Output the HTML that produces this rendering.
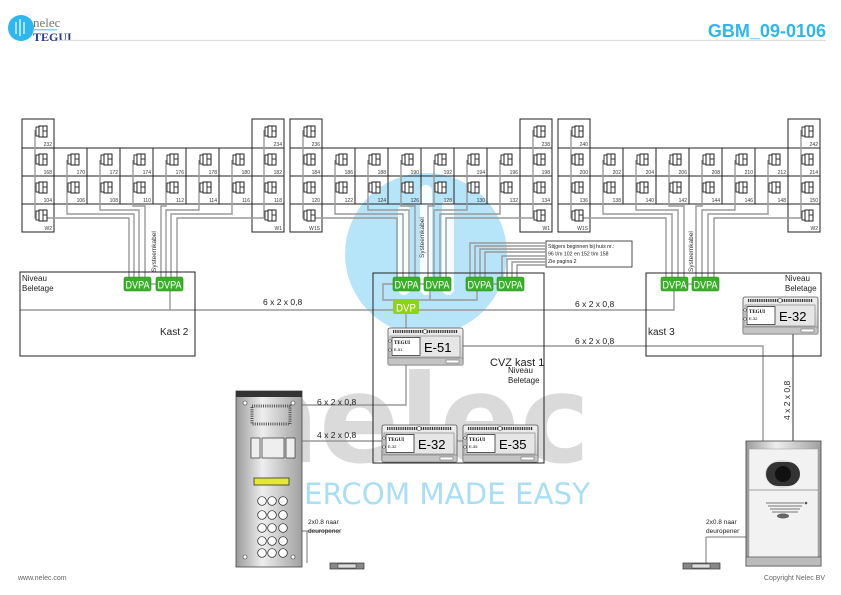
<!DOCTYPE html>
<html><head><meta charset="utf-8"><style>
html,body{margin:0;padding:0;background:#fff;}
svg{display:block;font-family:"Liberation Sans",sans-serif;}
</style></head><body>
<svg width="841" height="595" viewBox="0 0 841 595" xmlns="http://www.w3.org/2000/svg">
<defs>
<g id="ph"><rect x="-3" y="0" width="3" height="9" fill="#fff" stroke="#222" stroke-width="0.9"/><rect x="0" y="-1" width="8" height="11" fill="#fff" stroke="#222" stroke-width="1"/><line x1="4" y1="-1" x2="4" y2="10" stroke="#222" stroke-width="0.9"/><line x1="4" y1="4" x2="8" y2="4" stroke="#222" stroke-width="0.9"/></g>
<linearGradient id="mg" x1="0" y1="0" x2="0" y2="1"><stop offset="0" stop-color="#f0f0f0"/><stop offset="1" stop-color="#c8c8c8"/></linearGradient>
<linearGradient id="pg" x1="0" y1="0" x2="1" y2="0"><stop offset="0" stop-color="#9a9a9a"/><stop offset="0.4" stop-color="#eeeeee"/><stop offset="1" stop-color="#a0a0a0"/></linearGradient>
<g id="mod"><rect x="0" y="0" width="75" height="37" rx="2" fill="url(#mg)" stroke="#555" stroke-width="0.8"/><line x1="5" y1="3.5" x2="70" y2="3.5" stroke="#333" stroke-width="3" stroke-dasharray="1 0.8"/><circle cx="37" cy="3.5" r="2" fill="#fff" stroke="#333" stroke-width="0.6"/><rect x="2" y="8" width="70" height="21" fill="#e6e6e6" stroke="#777" stroke-width="0.6"/><rect x="4" y="9.5" width="28" height="18" fill="#fff" stroke="#333" stroke-width="0.8"/><rect x="0" y="30" width="75" height="7" fill="#c4c4c4" stroke="#666" stroke-width="0.5"/><rect x="58" y="32" width="13" height="3" fill="#fff" stroke="#555" stroke-width="0.5"/><circle cx="2" cy="13" r="1.3" fill="#fff" stroke="#333" stroke-width="0.5"/><circle cx="2" cy="22" r="1.3" fill="#fff" stroke="#333" stroke-width="0.5"/></g>
</defs>

<!-- watermark -->
<circle cx="426" cy="254" r="81" fill="#b6e5f9"/>
<g fill="#fff" opacity="0.9"><rect x="398" y="205" width="12" height="90" rx="6"/><rect x="420" y="185" width="12" height="110" rx="6"/><rect x="442" y="200" width="12" height="95" rx="6"/></g>
<text x="235" y="462" font-size="122" font-weight="bold" fill="#dadada" textLength="355" lengthAdjust="spacingAndGlyphs" font-family="'DejaVu Sans',sans-serif">nelec</text>
<text x="304" y="504" font-size="29" fill="#a9dff6" textLength="286" lengthAdjust="spacingAndGlyphs" font-family="'DejaVu Sans',sans-serif">ERCOM MADE EASY</text>

<!-- header -->
<circle cx="21" cy="28" r="13" fill="#2cb7f0"/>
<g stroke="#fff" stroke-width="1.2"><line x1="16" y1="22" x2="16" y2="34"/><line x1="20" y1="19" x2="20" y2="36"/><line x1="24" y1="22" x2="24" y2="34"/></g>
<text x="33" y="27" font-size="13" fill="#777" font-family="'Liberation Serif',serif">nelec</text>
<text x="33" y="41" font-size="12" fill="#2c3a8a" font-weight="bold" font-family="'Liberation Serif',serif">TEGUI</text>
<rect x="33" y="29" width="24" height="1.5" fill="#7fd0f5"/>
<line x1="58" y1="40.5" x2="826" y2="40.5" stroke="#ddd" stroke-width="1.2"/>
<text x="826" y="37" font-size="18" fill="#2cb7f0" font-weight="bold" text-anchor="end">GBM_09-0106</text>
<text x="18" y="580" font-size="7" fill="#666">www.nelec.com</text>
<text x="825" y="580" font-size="7" fill="#666" text-anchor="end">Copyright Nelec BV</text>

<!-- grids -->
<g fill="none" stroke="#222" stroke-width="1">
<rect x="22" y="119" width="32" height="113"/><rect x="252" y="119" width="32" height="113"/>
<rect x="290" y="119" width="32" height="113"/><rect x="520" y="119" width="32" height="113"/>
<rect x="558" y="119" width="32" height="113"/><rect x="788" y="119" width="32" height="113"/>
<path d="M22 148H284M22 176H284M22 204H284M87 148V204M120 148V204M153 148V204M186 148V204M219 148V204M54 148V204M252 148V204"/>
<path d="M290 148H552M290 176H552M290 204H552M355 148V204M388 148V204M421 148V204M454 148V204M487 148V204"/>
<path d="M558 148H820M558 176H820M558 204H820M623 148V204M656 148V204M689 148V204M722 148V204M755 148V204"/>
</g>

<!-- wires -->
<g fill="none" stroke="#9a9a9a" stroke-width="1.4">
<path d="M35 130V218H129V277M67 160V214H134V277M100 160V210H139V277M133 160V206H145V277M166 160V206H161V277M199 160V210H166V277M232 160V214H171V277M264 130V218H177V277"/>
<path d="M303 130V218H397V277M335 160V214H403V277M368 160V210H409V277M401 160V206H415V277M434 160V206H428V277M467 160V210H434V277M500 160V214H440V277M533 130V218H446V277"/>
<path d="M571 130V218H666V277M603 160V214H672V277M636 160V210H678V277M669 160V206H684V277M702 160V206H696V277M735 160V210H702V277M768 160V214H708V277M801 130V218H714V277"/>
<path d="M545 243H470V277M545 246H475V277M545 249H480V277M545 252H485V277M545 256H502V277M545 259H507V277M545 262H512V277M545 265H517V277"/>
<path d="M393 284H383V300H477V291M430 291V300M406 314V328"/>
<path d="M170 291V310H646M674 291V310H544M195 310H20"/>
<path d="M455 346H763V441"/>
<path d="M302 405H406V365"/>
<path d="M302 441H382M454 441H463"/>
</g>
<line x1="793" y1="333" x2="793" y2="441" stroke="#333" stroke-width="1"/>
<line x1="307" y1="531" x2="307" y2="563" stroke="#777" stroke-width="1"/>
<line x1="706" y1="537" x2="746" y2="537" stroke="#777" stroke-width="1"/>
<line x1="706" y1="537" x2="706" y2="563" stroke="#777" stroke-width="1"/>
<line x1="302" y1="531" x2="340" y2="531" stroke="#777" stroke-width="1"/>

<!-- phones -->
<g>
<use href="#ph" x="39" y="127"/><use href="#ph" x="39" y="155"/><use href="#ph" x="39" y="183"/><use href="#ph" x="39" y="211"/>
<use href="#ph" x="71" y="155"/><use href="#ph" x="104" y="155"/><use href="#ph" x="137" y="155"/><use href="#ph" x="170" y="155"/><use href="#ph" x="203" y="155"/><use href="#ph" x="236" y="155"/>
<use href="#ph" x="71" y="183"/><use href="#ph" x="104" y="183"/><use href="#ph" x="137" y="183"/><use href="#ph" x="170" y="183"/><use href="#ph" x="203" y="183"/><use href="#ph" x="236" y="183"/>
<use href="#ph" x="268" y="127"/><use href="#ph" x="268" y="155"/><use href="#ph" x="268" y="183"/><use href="#ph" x="268" y="211"/>
<use href="#ph" x="307" y="127"/><use href="#ph" x="307" y="155"/><use href="#ph" x="307" y="183"/><use href="#ph" x="307" y="211"/>
<use href="#ph" x="339" y="155"/><use href="#ph" x="372" y="155"/><use href="#ph" x="405" y="155"/><use href="#ph" x="438" y="155"/><use href="#ph" x="471" y="155"/><use href="#ph" x="504" y="155"/>
<use href="#ph" x="339" y="183"/><use href="#ph" x="372" y="183"/><use href="#ph" x="405" y="183"/><use href="#ph" x="438" y="183"/><use href="#ph" x="471" y="183"/><use href="#ph" x="504" y="183"/>
<use href="#ph" x="537" y="127"/><use href="#ph" x="537" y="155"/><use href="#ph" x="537" y="183"/><use href="#ph" x="537" y="211"/>
<use href="#ph" x="575" y="127"/><use href="#ph" x="575" y="155"/><use href="#ph" x="575" y="183"/><use href="#ph" x="575" y="211"/>
<use href="#ph" x="607" y="155"/><use href="#ph" x="640" y="155"/><use href="#ph" x="673" y="155"/><use href="#ph" x="706" y="155"/><use href="#ph" x="739" y="155"/><use href="#ph" x="772" y="155"/>
<use href="#ph" x="607" y="183"/><use href="#ph" x="640" y="183"/><use href="#ph" x="673" y="183"/><use href="#ph" x="706" y="183"/><use href="#ph" x="739" y="183"/><use href="#ph" x="772" y="183"/>
<use href="#ph" x="805" y="127"/><use href="#ph" x="805" y="155"/><use href="#ph" x="805" y="183"/><use href="#ph" x="805" y="211"/>
</g>

<!-- cell labels -->
<g font-size="5" fill="#333" text-anchor="end">
<text x="52" y="146">232</text><text x="52" y="174">168</text><text x="52" y="202">104</text><text x="52" y="230">W2</text>
<text x="85" y="174">170</text><text x="118" y="174">172</text><text x="151" y="174">174</text><text x="184" y="174">176</text><text x="217" y="174">178</text><text x="250" y="174">180</text>
<text x="85" y="202">106</text><text x="118" y="202">108</text><text x="151" y="202">110</text><text x="184" y="202">112</text><text x="217" y="202">114</text><text x="250" y="202">116</text>
<text x="282" y="146">234</text><text x="282" y="174">182</text><text x="282" y="202">118</text><text x="282" y="230">W1</text>
<text x="320" y="146">236</text><text x="320" y="174">184</text><text x="320" y="202">120</text><text x="320" y="230">W1S</text>
<text x="353" y="174">186</text><text x="386" y="174">188</text><text x="419" y="174">190</text><text x="452" y="174">192</text><text x="485" y="174">194</text><text x="518" y="174">196</text>
<text x="353" y="202">122</text><text x="386" y="202">124</text><text x="419" y="202">126</text><text x="452" y="202">128</text><text x="485" y="202">130</text><text x="518" y="202">132</text>
<text x="550" y="146">238</text><text x="550" y="174">198</text><text x="550" y="202">134</text><text x="550" y="230">W1</text>
<text x="588" y="146">240</text><text x="588" y="174">200</text><text x="588" y="202">136</text><text x="588" y="230">W1S</text>
<text x="621" y="174">202</text><text x="654" y="174">204</text><text x="687" y="174">206</text><text x="720" y="174">208</text><text x="753" y="174">210</text><text x="786" y="174">212</text>
<text x="621" y="202">138</text><text x="654" y="202">140</text><text x="687" y="202">142</text><text x="720" y="202">144</text><text x="753" y="202">146</text><text x="786" y="202">148</text>
<text x="818" y="146">242</text><text x="818" y="174">214</text><text x="818" y="202">150</text><text x="818" y="230">W2</text>
</g>
<g font-size="6.5" fill="#333">
<text transform="translate(156,272) rotate(-90)">Systeemkabel</text>
<text transform="translate(424,258) rotate(-90)">Systeemkabel</text>
<text transform="translate(693,272) rotate(-90)">Systeemkabel</text>
</g>

<!-- note -->
<rect x="546" y="241" width="86" height="26" fill="#fff" stroke="#222" stroke-width="0.8"/>
<g font-size="5.2" fill="#222"><text x="548" y="248">Stijgers beginnen bij huis nr.:</text><text x="548" y="255.5">96 t/m 102 en 152 t/m 158</text><text x="548" y="263">Zie pagina 2</text></g>

<!-- cabinets -->
<g fill="none" stroke="#222" stroke-width="1">
<rect x="20" y="272" width="175" height="84"/>
<rect x="373" y="273" width="171" height="190"/>
<rect x="646" y="273" width="175" height="83"/>
</g>
<g font-size="8" fill="#222"><text x="22" y="281">Niveau</text><text x="22" y="291">Beletage</text>
<text x="785" y="281">Niveau</text><text x="785" y="291">Beletage</text>
<text x="508" y="373">Niveau</text><text x="508" y="383">Beletage</text></g>
<text x="160" y="335" font-size="10" fill="#222">Kast 2</text>
<text x="648" y="335" font-size="10" fill="#222">kast 3</text>
<text x="490" y="366" font-size="11" fill="#222">CVZ kast 1</text>

<!-- DVPA -->
<g fill="#3ab02a" stroke="#2a8a1a" stroke-width="0.6">
<rect x="124" y="277" width="27" height="14" rx="2"/><rect x="156" y="277" width="27" height="14" rx="2"/>
<rect x="393" y="277" width="27" height="14" rx="2"/><rect x="424" y="277" width="27" height="14" rx="2"/>
<rect x="466" y="277" width="27" height="14" rx="2"/><rect x="497" y="277" width="27" height="14" rx="2"/>
<rect x="661" y="277" width="27" height="14" rx="2"/><rect x="692" y="277" width="27" height="14" rx="2"/>
</g>
<rect x="393" y="300" width="26" height="14" rx="2" fill="#8fd414"/>
<g font-size="11" fill="#fff" text-anchor="middle">
<text x="137.5" y="288.5" textLength="24" lengthAdjust="spacingAndGlyphs">DVPA</text><text x="169.5" y="288.5" textLength="24" lengthAdjust="spacingAndGlyphs">DVPA</text>
<text x="406.5" y="288.5" textLength="24" lengthAdjust="spacingAndGlyphs">DVPA</text><text x="437.5" y="288.5" textLength="24" lengthAdjust="spacingAndGlyphs">DVPA</text>
<text x="479.5" y="288.5" textLength="24" lengthAdjust="spacingAndGlyphs">DVPA</text><text x="510.5" y="288.5" textLength="24" lengthAdjust="spacingAndGlyphs">DVPA</text>
<text x="674.5" y="288.5" textLength="24" lengthAdjust="spacingAndGlyphs">DVPA</text><text x="705.5" y="288.5" textLength="24" lengthAdjust="spacingAndGlyphs">DVPA</text>
<text x="406" y="311.5" textLength="20" lengthAdjust="spacingAndGlyphs">DVP</text>
</g>
<g stroke="#888" stroke-width="1.2"><line x1="151" y1="284" x2="156" y2="284"/><line x1="420" y1="284" x2="424" y2="284"/><line x1="493" y1="284" x2="497" y2="284"/><line x1="688" y1="284" x2="692" y2="284"/></g>

<!-- cable labels -->
<g font-size="8.5" fill="#222">
<text x="263" y="305">6 x 2 x 0,8</text><text x="575" y="307">6 x 2 x 0,8</text>
<text x="575" y="344">6 x 2 x 0,8</text>
<text x="317" y="405">6 x 2 x 0,8</text><text x="317" y="438">4 x 2 x 0,8</text>
<text transform="translate(790,420) rotate(-90)">4 x 2 x 0,8</text>
</g>

<!-- modules -->
<g transform="translate(388,328)"><use href="#mod"/><text x="6" y="16" font-size="5" font-weight="bold" font-family="'Liberation Serif',serif">TEGUI</text><text x="6" y="23" font-size="4">E-51</text><text x="36" y="24" font-size="13">E-51</text></g>
<g transform="translate(382,425)"><use href="#mod"/><text x="6" y="16" font-size="5" font-weight="bold" font-family="'Liberation Serif',serif">TEGUI</text><text x="6" y="23" font-size="4">E-32</text><text x="36" y="24" font-size="13">E-32</text></g>
<g transform="translate(463,425)"><use href="#mod"/><text x="6" y="16" font-size="5" font-weight="bold" font-family="'Liberation Serif',serif">TEGUI</text><text x="6" y="23" font-size="4">E-35</text><text x="36" y="24" font-size="13">E-35</text></g>
<g transform="translate(743,297)"><use href="#mod"/><text x="6" y="16" font-size="5" font-weight="bold" font-family="'Liberation Serif',serif">TEGUI</text><text x="6" y="23" font-size="4">E-32</text><text x="36" y="24" font-size="13">E-32</text></g>

<!-- left panel -->
<rect x="236" y="391" width="66" height="176" fill="url(#pg)" stroke="#444" stroke-width="0.8"/>
<rect x="236" y="391" width="66" height="6" fill="#333"/>
<circle cx="245" cy="403" r="2" fill="#fff" stroke="#333" stroke-width="0.6"/><circle cx="293" cy="403" r="2" fill="#fff" stroke="#333" stroke-width="0.6"/>
<rect x="252" y="406" width="38" height="18" fill="none" stroke="#555" stroke-width="3" stroke-dasharray="1 1.2"/>
<rect x="251" y="438" width="9" height="20" fill="#eee" stroke="#333" stroke-width="0.7"/><rect x="262" y="438" width="22" height="20" fill="#eee" stroke="#333" stroke-width="0.7"/><rect x="286" y="438" width="9" height="20" fill="#eee" stroke="#333" stroke-width="0.7"/>
<rect x="254" y="478" width="35" height="7" fill="#e6e830" stroke="#333" stroke-width="0.8"/>
<g fill="#fff" stroke="#222" stroke-width="0.7">
<circle cx="262" cy="501" r="4.3"/><circle cx="272" cy="501" r="4.3"/><circle cx="283" cy="501" r="4.3"/>
<circle cx="262" cy="515" r="4.3"/><circle cx="272" cy="515" r="4.3"/><circle cx="283" cy="515" r="4.3"/>
<circle cx="262" cy="528" r="4.3"/><circle cx="272" cy="528" r="4.3"/><circle cx="283" cy="528" r="4.3"/>
<circle cx="262" cy="541" r="4.3"/><circle cx="272" cy="541" r="4.3"/><circle cx="283" cy="541" r="4.3"/>
<circle cx="262" cy="553" r="4.3"/><circle cx="272" cy="553" r="4.3"/><circle cx="283" cy="553" r="4.3"/>
</g>
<circle cx="245" cy="557" r="2" fill="#fff" stroke="#333" stroke-width="0.6"/><circle cx="293" cy="557" r="2" fill="#fff" stroke="#333" stroke-width="0.6"/>

<!-- right panel -->
<rect x="746" y="441" width="75" height="125" fill="url(#pg)" stroke="#444" stroke-width="0.8"/>
<rect x="749" y="449" width="69" height="108" fill="#f2f2f2" stroke="#999" stroke-width="0.5"/>
<ellipse cx="782" cy="474" rx="17" ry="14" fill="#ddd"/>
<rect x="766" y="462" width="34" height="24" rx="12" fill="#333"/>
<circle cx="783" cy="474" r="8" fill="#111"/>
<line x1="749" y1="490" x2="818" y2="490" stroke="#888" stroke-width="0.8"/>
<g stroke="#777" stroke-width="1"><line x1="766" y1="503" x2="804" y2="503"/><line x1="768" y1="506" x2="802" y2="506"/><line x1="770" y1="509" x2="800" y2="509"/><line x1="772" y1="512" x2="798" y2="512"/></g>
<ellipse cx="783" cy="516" rx="6" ry="2.5" fill="#666"/>
<circle cx="806" cy="503" r="1.3" fill="#555"/>
<rect x="746" y="557" width="75" height="9" fill="#bbb" stroke="#444" stroke-width="0.6"/>

<!-- door openers -->
<rect x="330" y="563" width="34" height="6" fill="#888" stroke="#333" stroke-width="0.7"/><rect x="338" y="564" width="18" height="4" fill="#ddd" stroke="#333" stroke-width="0.5"/>
<rect x="683" y="563" width="37" height="6" fill="#888" stroke="#333" stroke-width="0.7"/><rect x="692" y="564" width="18" height="4" fill="#ddd" stroke="#333" stroke-width="0.5"/>
<g font-size="6.5" fill="#222"><text x="308" y="524">2x0.8 naar</text><text x="308" y="533">deuropener</text>
<text x="706" y="524">2x0.8 naar</text><text x="706" y="533">deuropener</text></g>
</svg>
</body></html>
